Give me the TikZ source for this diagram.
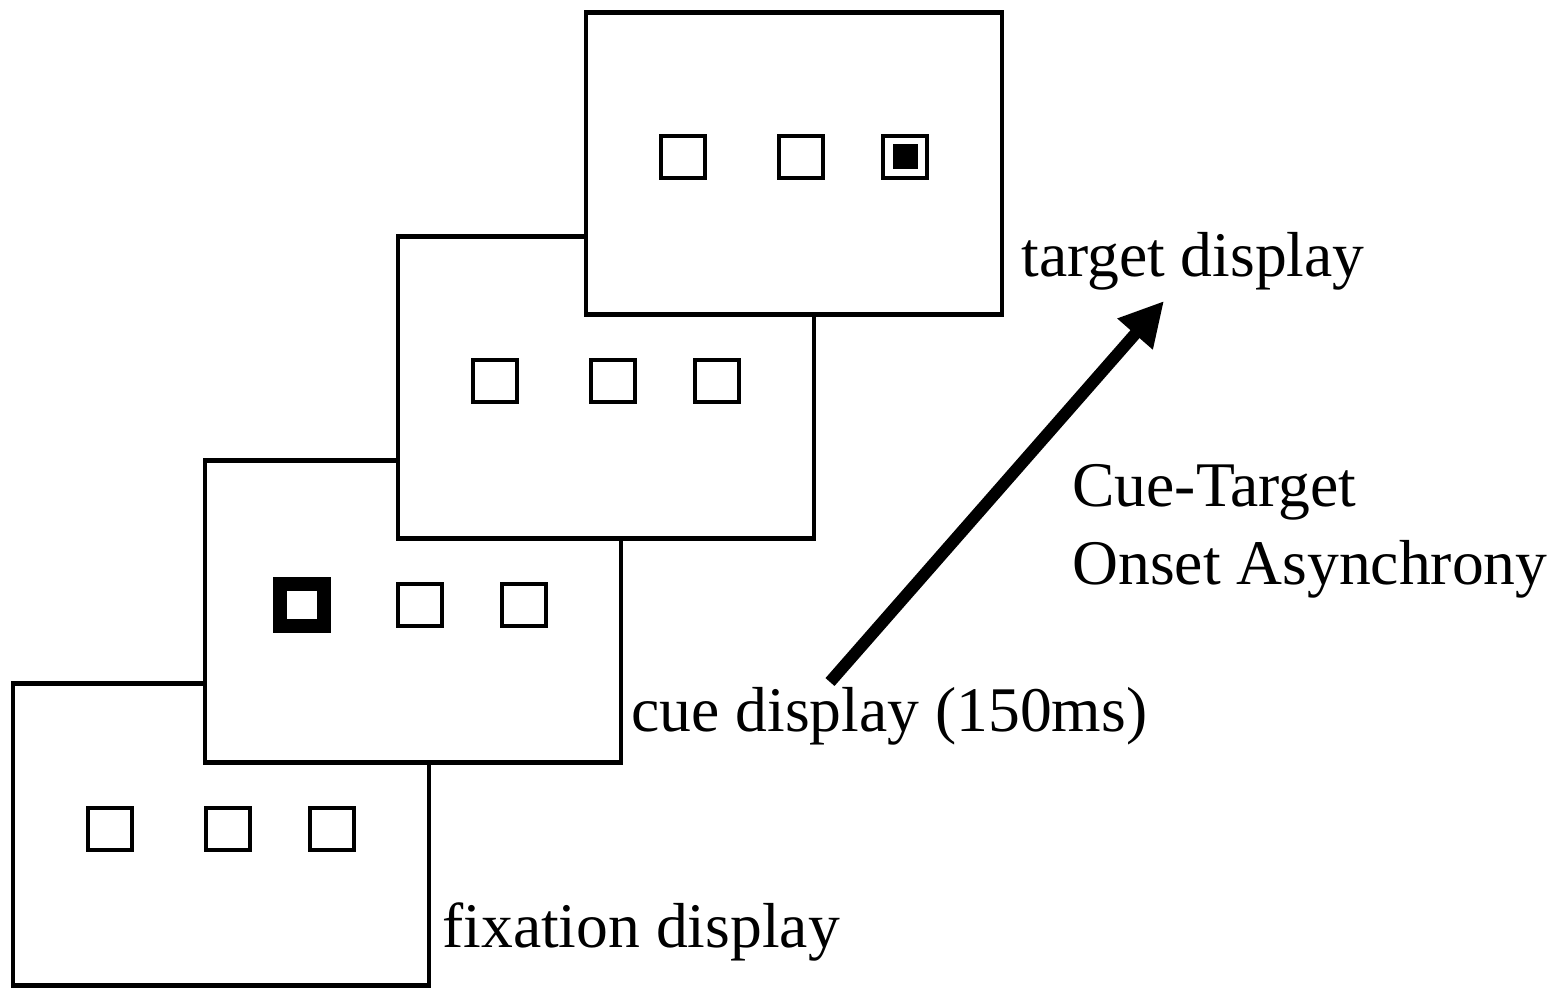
\documentclass[tikz,border=0pt]{standalone}
\usepackage{fontspec}
\setmainfont{Liberation Serif}
\usetikzlibrary{arrows.meta}
\begin{document}
\begin{tikzpicture}[x=0.5pt,y=-0.5pt,
  frame/.style={draw=black,fill=white,line width=2.15pt,rectangle,inner sep=0pt,outer sep=0pt,minimum width=208pt,minimum height=151pt},
  sq/.style={draw=black,line width=2.4pt,rectangle,inner sep=0pt,outer sep=0pt,minimum width=22pt,minimum height=21pt},
  cuesq/.style={sq,line width=6.75pt},
  dot/.style={fill=black,rectangle,inner sep=0pt,outer sep=0pt,minimum size=12.5pt},
  lbl/.style={anchor=base west,inner sep=0pt,font=\fontsize{31.8}{39}\selectfont},
  arr/.style={line width=6pt,-{Triangle[length=22pt,width=22pt]}}]
\useasboundingbox (0,0) rectangle (1556,987);
% fixation display
\node[frame] (f1) at (221,834.5) {};
\node[sq] (f1a) at (110,829) {};
\node[sq] (f1b) at (228,829) {};
\node[sq] (f1c) at (332,829) {};
% cue display
\node[frame] (f2) at (413,611.5) {};
\node[cuesq] (f2a) at (302,605) {};
\node[sq] (f2b) at (420,605) {};
\node[sq] (f2c) at (524,605) {};
% interval display
\node[frame] (f3) at (606,387.5) {};
\node[sq] (f3a) at (495,381) {};
\node[sq] (f3b) at (613,381) {};
\node[sq] (f3c) at (717,381) {};
% target display
\node[frame] (f4) at (794,163.5) {};
\node[sq] (f4a) at (683,157) {};
\node[sq] (f4b) at (801,157) {};
\node[sq] (f4c) at (905,157) {};
\node[dot] (f4t) at (905.5,156.5) {};
% labels
\node[lbl] (lt) at (1021,276) {target display};
\node[lbl] (lc) at (631,731) {cue display (150ms)};
\node[lbl] (lf) at (442,947) {fixation display};
\node[lbl] (lsoa1) at (1072,506) {Cue-Target};
\node[lbl] (lsoa2) at (1072,584) {Onset Asynchrony};
% arrow
\coordinate (as) at (830,682);
\coordinate (ae) at (1164,301);
\draw[arr] (as) -- (ae);
\end{tikzpicture}
\end{document}
